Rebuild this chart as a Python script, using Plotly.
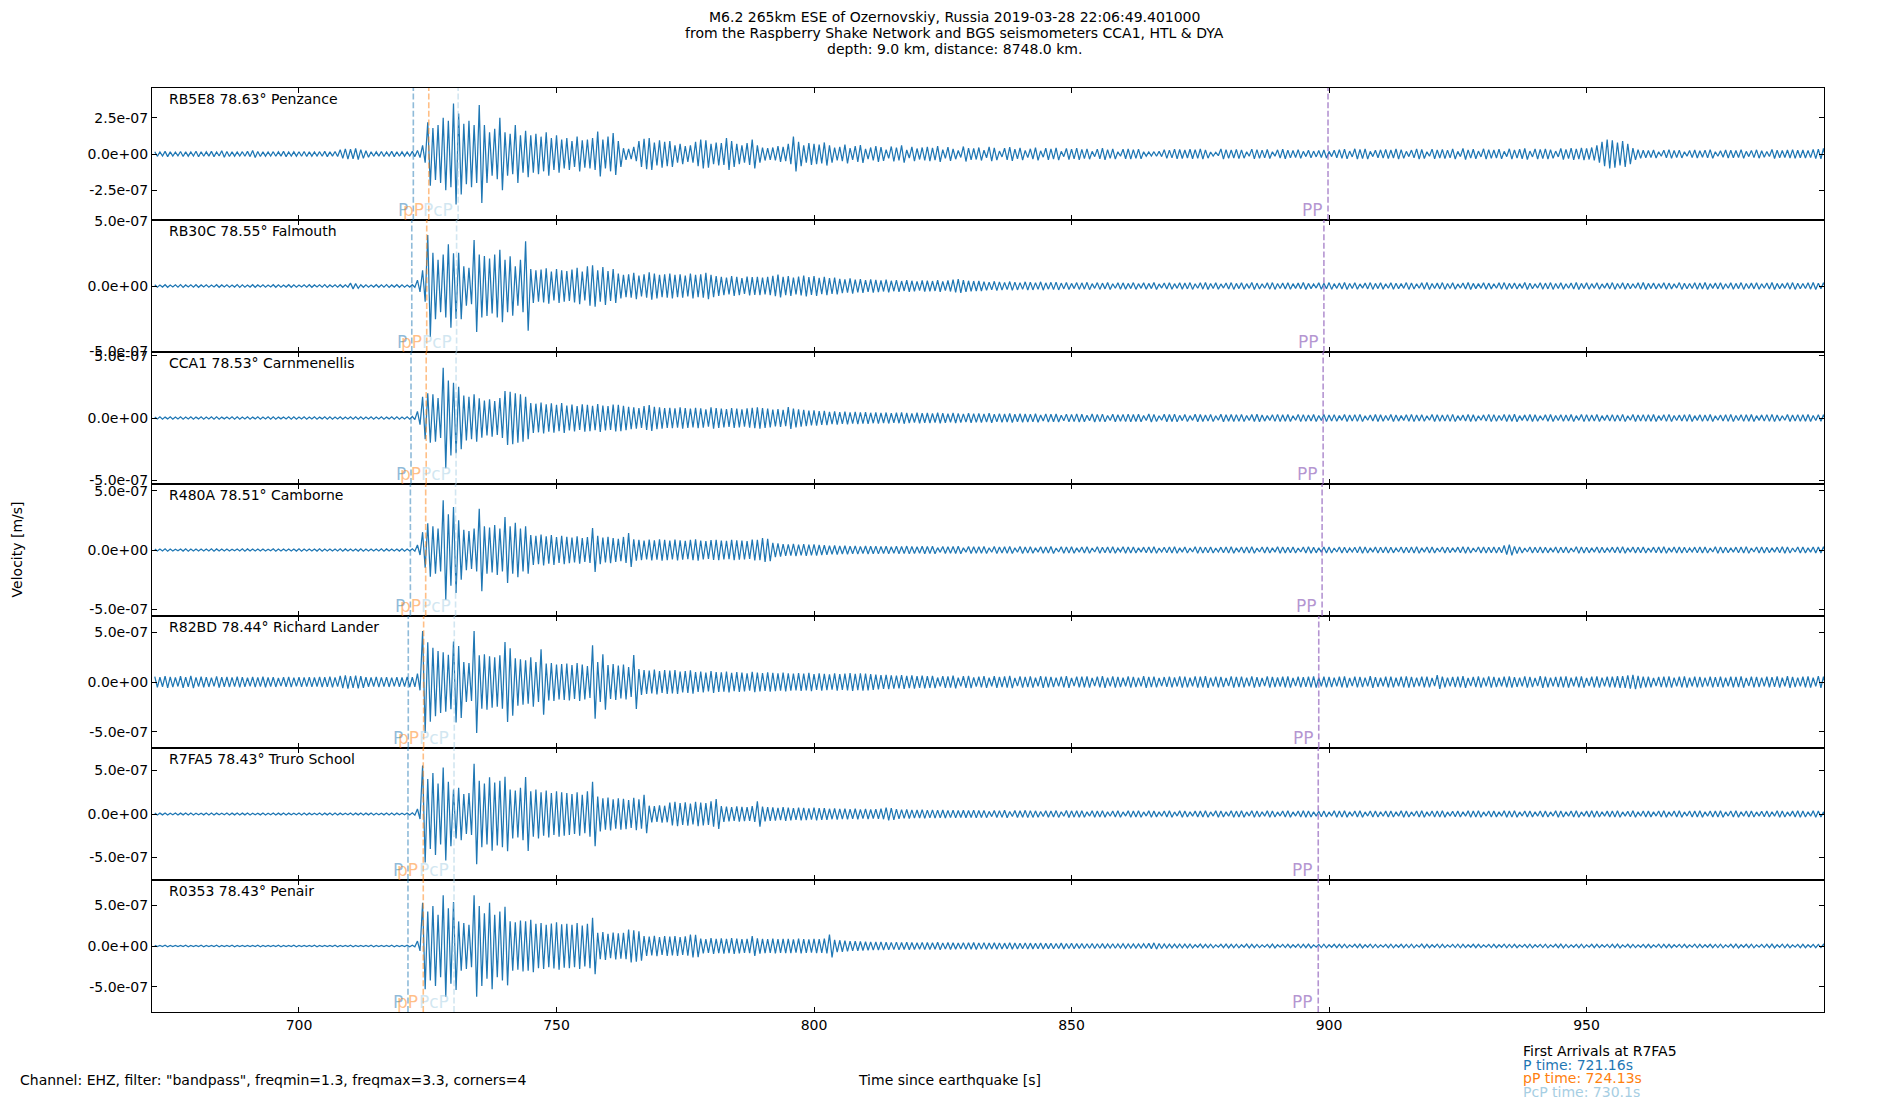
import plotly.graph_objects as go
from plotly.subplots import make_subplots

# ---------------- data ----------------
stations = ["RB5E8", "RB30C", "CCA1", "R480A", "R82BD", "R7FA5", "R0353"]
distances = [78.63, 78.55, 78.53, 78.51, 78.44, 78.43, 78.43]
places = ["Penzance", "Falmouth", "Carnmenellis", "Camborne", "Richard Lander", "Truro School", "Penair"]

# symmetric y-limits of every panel (m/s)
y_limits = [4.57e-7, 5.05e-7, 5.3e-7, 5.56e-7, 6.65e-7, 7.57e-7, 8.05e-7]
ytick_vals = [[-2.5e-7, 0, 2.5e-7]] + [[-5e-7, 0, 5e-7]] * 6
ytick_text = [["-2.5e-07", "0.0e+00", "2.5e-07"]] + [["-5.0e-07", "0.0e+00", "5.0e-07"]] * 6

x_range = [671.46, 996.1]
xtick_vals = [700, 750, 800, 850, 900, 950]
xtick_text = ["700", "750", "800", "850", "900", "950"]

# arrival times (s) per station
P_times = [722.2, 721.9, 721.75, 721.63, 721.22, 721.16, 721.16]
pP_times = [725.2, 724.8, 724.7, 724.6, 724.2, 724.13, 724.13]
PcP_times = [730.9, 730.6, 730.5, 730.4, 730.15, 730.1, 730.1]
PP_times = [899.8, 899.0, 898.85, 898.65, 898.0, 897.9, 897.9]

# peak amplitude (nm/s) in 1-second bins starting at t = 672 s
bin_start = 672
amp_RB5E8 = [
    16,14,18,15,13,17,15,14,19,16, 15,18,14,22,17,15,14,16,18,24,
    17,15,14,16,15,18,14,15,16,17, 15,14,16,18,15,17,30,36,33,38,
    30,22,16,15,17,14,18,16,15,14, 18,25,60,220,180,200,250,230,350,280,
    210,230,200,340,200,150,175,250,150,140, 200,130,160,130,140,120,150,110,130,100,
    110,90,120,95,100,110,155,100,120,145, 90,40,35,50,90,105,110,80,95,85,
    90,60,70,55,60,85,100,95,70,80, 75,110,90,70,60,75,100,60,45,40,
    45,55,50,70,120,85,60,75,70,65, 80,60,45,50,65,40,55,62,35,45,
    55,48,30,52,45,60,28,50,38,45, 50,42,55,30,48,36,24,52,40,38,
    45,26,50,42,20,40,48,34,42,25, 36,44,22,40,35,42,18,38,34,40,
    32,36,18,34,40,30,35,16,33,36, 30,34,15,14,16,18,30,27,34,31,
    28,33,30,36,29,14,12,35,30,28, 32,29,16,34,30,27,31,15,29,33,
    27,24,30,18,26,20,24,28,18,26, 30,34,20,36,32,35,18,26,29,32,
    28,35,30,18,27,36,31,16,34,28, 32,27,35,18,38,29,33,20,36,30,
    28,34,18,36,29,33,38,20,35,32, 36,30,20,38,32,40,35,42,38,45,
    60,85,100,95,80,90,70,40,30,26, 24,28,16,26,30,24,27,15,25,28,
    23,27,30,16,22,28,26,24,30,18, 25,29,23,17,31,26,24,28,30,26,
    28,25,32,34,38,
]
amp_RB30C = [
    9,8,10,7,9,11,8,9,10,8, 9,7,10,8,9,8,11,9,8,10,
    8,9,7,10,9,8,10,9,8,9, 10,8,9,11,8,9,10,9,22,18,
    10,9,8,10,9,11,8,10,9,8, 10,45,120,390,255,200,240,320,250,255,
    150,140,352,240,230,210,240,278,200,227, 150,200,342,130,120,125,135,110,130,120,
    115,125,140,110,150,158,120,145,115,130, 95,85,90,100,80,90,105,95,85,90,
    95,85,90,80,95,85,90,100,85,75, 70,65,75,70,60,72,68,70,65,70,
    78,87,70,75,65,72,80,68,75,62, 70,60,65,55,50,58,48,52,45,50,
    46,42,48,40,45,38,44,40,36,42, 40,38,44,36,42,48,52,45,40,38,
    38,34,30,36,32,28,34,30,26,32, 30,26,32,24,28,30,22,27,20,26,
    24,28,18,26,22,27,17,25,24,20, 26,18,24,20,27,16,23,25,18,24,
    22,26,17,24,27,19,25,16,23,26, 20,25,18,27,22,17,24,26,19,23,
    25,18,22,27,20,16,24,21,26,18, 23,27,19,25,16,22,26,20,24,17,
    25,21,18,26,23,17,24,27,19,22, 26,19,24,16,23,27,20,18,25,22,
    17,24,26,20,23,18,27,21,16,25, 22,26,19,24,17,23,27,20,25,18,
    24,16,22,26,19,25,21,17,24,27, 20,23,18,25,22,16,26,21,19,24,
    23,27,18,22,25,17,24,20,26,19, 22,25,17,23,27,20,18,24,26,21,
    19,24,27,21,25,
]
amp_CCA1 = [
    8,9,7,10,8,9,8,10,7,9, 8,10,9,7,8,9,10,8,9,7,
    9,8,10,9,7,8,9,10,8,9, 8,9,7,10,9,8,10,8,9,10,
    9,8,10,8,9,7,10,9,8,9, 12,53,171,198,190,160,404,300,283,250,
    180,170,190,158,140,150,136,160,217,210, 198,190,170,120,115,125,110,118,105,120,
    100,108,95,110,105,98,112,100,95,108, 105,98,90,85,80,95,104,90,85,80,
    82,78,85,80,75,82,78,70,85,80, 76,72,80,75,70,78,82,85,80,75,
    68,72,65,88,75,70,66,60,62,55, 58,50,54,48,52,45,50,46,48,42,
    45,40,44,38,42,46,40,36,42,38, 40,36,42,38,34,40,37,33,38,35,
    36,33,38,31,35,32,36,30,34,32, 31,34,24,33,30,32,22,31,29,33,
    30,22,32,29,31,20,30,26,29,31, 28,30,20,32,29,18,30,28,31,21,
    29,19,30,28,25,29,18,30,26,28, 27,29,20,28,30,25,19,27,29,26,
    28,18,29,27,24,28,20,29,25,27, 19,28,25,27,29,18,24,28,26,20,
    28,25,19,26,29,24,27,18,28,26, 25,27,29,19,24,28,26,18,25,29,
    27,20,28,26,30,19,25,28,26,18, 26,28,20,27,24,28,19,29,27,25,
    28,19,24,27,25,29,18,28,25,27, 26,28,19,27,29,20,24,27,28,19,
    27,25,28,18,24,27,29,20,27,26, 28,19,25,27,29,24,18,28,25,27,
    26,28,20,27,26,
]
amp_R480A = [
    9,8,10,8,7,9,10,8,9,8, 8,10,9,8,9,7,8,10,9,8,
    9,8,7,10,8,9,8,9,10,8, 8,9,10,8,9,8,10,9,8,9,
    10,8,9,8,10,9,8,9,10,8, 10,42,150,225,200,180,418,300,362,250,
    170,160,180,348,200,190,210,180,278,200, 230,180,200,126,120,130,115,125,110,120,
    112,105,115,100,110,185,120,105,112,100, 95,110,143,90,85,80,88,82,90,85,
    80,88,82,78,85,90,80,75,84,86, 80,78,85,82,80,75,88,85,100,95,
    60,55,50,48,52,45,50,46,48,42, 40,36,38,34,36,32,35,30,34,31,
    33,30,32,28,31,29,33,30,28,31, 29,31,20,30,27,29,31,18,30,27,
    28,30,19,29,26,28,30,18,29,26, 27,18,28,26,29,17,27,26,28,18,
    26,28,17,27,24,26,28,16,27,26, 25,18,24,26,28,17,23,26,27,18,
    26,17,27,25,23,26,17,24,25,27, 18,26,25,27,17,25,26,18,27,25,
    23,26,17,25,27,24,18,26,25,17, 26,24,17,23,27,25,18,26,23,25,
    24,17,25,23,25,27,18,25,26,17, 25,23,18,24,27,25,17,26,25,23,
    26,24,38,45,30,25,17,26,23,25, 24,18,25,23,26,17,27,25,24,18,
    25,23,17,24,25,27,18,26,23,25, 17,24,25,27,18,26,25,23,17,24,
    25,26,17,27,25,23,18,24,25,27, 17,26,25,23,18,24,27,25,17,26,
    25,18,26,25,27,
]
amp_R82BD = [
    55,48,60,52,45,58,50,62,47,53, 50,44,56,48,52,46,55,49,43,51,
    47,53,45,50,42,48,52,44,49,46, 50,45,52,48,55,47,62,67,60,65,
    58,48,45,52,46,50,44,49,45,52, 48,84,513,400,346,312,300,275,409,362,
    200,190,513,270,280,260,250,270,403,339, 240,230,220,250,200,329,185,190,175,180,
    185,170,190,175,160,369,200,280,170,180, 165,175,150,272,130,120,115,125,110,120,
    115,120,105,110,118,100,105,95,110,100, 98,105,92,100,95,88,102,96,90,98,
    92,86,95,88,84,90,85,92,80,88, 82,78,86,80,85,90,82,88,84,80,
    75,70,72,68,65,70,62,66,60,64, 58,62,45,60,57,63,44,58,61,46,
    55,60,43,58,52,57,61,42,56,52, 57,43,59,55,51,44,54,58,42,55,
    53,57,42,55,58,44,56,51,43,57, 52,44,58,51,54,42,50,55,45,57,
    54,43,56,53,58,44,55,51,42,56, 51,55,44,57,50,42,56,52,45,53,
    56,42,54,50,55,57,43,54,52,44, 53,57,42,55,52,44,58,50,43,53,
    55,43,54,57,52,44,53,55,42,70, 54,44,52,55,58,42,51,56,44,57,
    52,43,53,57,50,44,56,52,42,58, 53,44,52,55,57,43,54,56,42,55,
    57,44,55,53,58,60,68,73,62,55, 53,42,52,55,57,44,54,56,43,55,
    52,44,54,50,55,43,53,51,56,42, 55,52,44,53,50,56,43,58,52,44,
    53,57,43,60,55,
]
amp_R7FA5 = [
    11,10,12,9,11,10,12,11,9,10, 11,12,10,9,11,10,12,10,11,9,
    10,11,9,12,10,11,10,9,11,12, 10,9,11,10,12,11,10,9,11,10,
    12,10,11,9,10,12,11,10,9,11, 14,57,557,400,470,350,534,370,280,300,
    230,240,576,380,350,420,360,380,427,280, 270,300,424,260,280,250,270,240,260,250,
    240,230,250,220,260,370,200,180,190,170, 180,175,160,185,170,221,95,90,100,95,
    130,140,125,135,120,140,130,125,145,172, 90,85,80,88,82,78,90,145,85,80,
    75,70,78,72,68,74,70,65,72,68, 66,60,64,58,62,56,60,54,58,52,
    56,60,72,68,55,50,52,48,46,50, 45,48,44,46,42,45,40,43,41,44,
    40,42,30,41,39,43,28,40,38,42, 39,36,28,38,35,39,26,40,36,38,
    37,25,38,34,36,26,35,37,24,36, 35,38,24,36,33,25,35,38,24,36,
    34,25,33,35,38,24,36,33,25,37, 33,36,24,38,35,25,36,34,24,35,
    36,24,35,37,34,25,32,35,24,36, 34,36,25,35,37,24,35,34,26,33,
    35,25,36,34,24,35,37,25,35,34, 36,24,32,35,25,36,34,37,24,35,
    33,25,37,34,36,24,35,33,25,34, 35,24,36,34,25,35,37,24,33,36,
    34,25,33,35,37,24,32,36,25,35, 33,24,34,36,25,35,37,24,35,34,
    36,25,35,34,37,24,34,36,25,35, 34,24,32,35,25,37,34,24,33,36,
    35,25,36,34,24,
]
amp_R0353 = [
    8,7,9,8,7,8,9,7,8,9, 7,8,9,8,7,9,8,7,8,8,
    9,7,8,8,9,7,8,9,7,8, 8,9,7,8,8,9,7,8,9,8,
    7,8,9,8,7,8,9,8,7,9, 10,60,528,420,488,380,618,460,537,300,
    280,260,618,488,400,528,380,420,480,300, 290,310,300,320,270,280,260,275,290,265,
    270,260,280,250,270,345,160,170,150,165, 155,160,200,190,180,120,115,125,110,120,
    115,120,110,118,140,135,90,85,95,88, 92,86,95,90,85,88,120,92,88,85,
    90,84,88,86,82,90,85,80,88,84, 90,140,75,70,65,60,58,55,52,50,
    48,50,46,44,47,42,45,43,40,44, 42,40,45,38,42,40,37,41,39,43,
    38,41,36,40,38,35,39,37,34,38, 35,33,36,32,34,31,35,30,33,29,
    30,28,31,27,29,26,28,25,27,24, 26,24,28,32,38,30,25,23,22,24,
    22,24,15,23,20,22,14,21,23,20, 22,15,23,21,19,14,20,23,15,19,
    21,15,22,20,23,14,19,22,15,21, 20,22,14,21,23,15,22,19,14,20,
    22,15,21,19,22,14,23,21,15,22, 20,14,19,22,20,15,21,20,14,19,
    21,15,22,19,21,14,20,22,15,19, 22,14,21,23,19,15,20,22,14,21,
    20,15,19,21,23,14,21,19,15,20, 21,14,22,20,21,15,19,21,14,22,
    20,15,21,19,22,14,21,23,15,21, 22,14,19,21,23,15,22,21,14,20,
    21,15,20,19,21,
]
amplitudes = [amp_RB5E8, amp_RB30C, amp_CCA1, amp_R480A, amp_R82BD, amp_R7FA5, amp_R0353]

title_lines = [
    "M6.2 265km ESE of Ozernovskiy, Russia 2019-03-28 22:06:49.401000",
    "from the Raspberry Shake Network and BGS seismometers CCA1, HTL & DYA",
    "depth: 9.0 km, distance: 8748.0 km.",
]
arrival_lines = ["First Arrivals at R7FA5", "P time: 721.16s", "pP time: 724.13s", "PcP time: 730.1s"]

# ---------------- styling ----------------
FONT = "DejaVu Sans"
TRACE_COLOR = "#1f77b4"
phase_names = ["P", "pP", "PcP", "PP"]
phase_colors = ["rgba(31,119,180,0.5)", "rgba(255,127,14,0.5)", "rgba(166,206,227,0.5)", "rgba(148,103,189,0.7)"]
arrival_colors = ["#000000", "#1f77b4", "#ff7f0e", "#a6cee3"]

W, H = 1900, 1100
L, R, T, B = 152.3, 1824.3, 88.3, 1012.3
pw, ph = R - L, B - T


def px(xpix):
    return (xpix - L) / pw


def py(ypix):
    return (B - ypix) / ph


n = len(stations)
fig = make_subplots(rows=n, cols=1, shared_xaxes=True, vertical_spacing=0)

for i in range(n):
    xs, ys = [], []
    k = 0
    for j, a in enumerate(amplitudes[i]):
        for s in range(2):
            xs.append(bin_start + j + s / 2.0)
            ys.append((a if k % 2 == 0 else -a) * 1e-9)
            k += 1
    fig.add_trace(go.Scatter(x=xs, y=ys, mode="lines",
                             line=dict(color=TRACE_COLOR, width=1.25),
                             hoverinfo="skip", showlegend=False), row=i + 1, col=1)

    ax = "" if i == 0 else str(i + 1)
    fig.update_yaxes(range=[-y_limits[i], y_limits[i]], tickvals=ytick_vals[i], ticktext=ytick_text[i],
                     row=i + 1, col=1)

    # phase lines and labels
    times = [P_times[i], pP_times[i], PcP_times[i], PP_times[i]]
    for name, t, col in zip(phase_names, times, phase_colors):
        fig.add_shape(type="line", x0=t, x1=t, y0=0, y1=1, xref="x" + ax, yref="y" + ax + " domain",
                      line=dict(color=col, width=1.6, dash="6px,2.6px"))
        fig.add_annotation(x=t, y=0, xref="x" + ax, yref="y" + ax + " domain", text=name,
                           showarrow=False, xanchor="right", yanchor="bottom", xshift=-3, yshift=-2,
                           font=dict(family=FONT, size=17, color=col))

    # station label
    fig.add_annotation(x=0.0088, y=1, xref="x" + ax + " domain", yref="y" + ax + " domain",
                       text=f"{stations[i]} {distances[i]}° {places[i]}", showarrow=False,
                       xanchor="left", yanchor="top", yshift=-1,
                       font=dict(family=FONT, size=14, color="black"))

fig.update_xaxes(range=x_range, tickvals=xtick_vals, ticktext=xtick_text, ticks="inside", ticklen=5,
                 tickwidth=1, tickcolor="black", showline=True, linecolor="black", linewidth=1.3,
                 mirror="allticks", showgrid=False, zeroline=False,
                 tickfont=dict(family=FONT, size=14, color="black"))
fig.update_yaxes(ticks="inside", ticklen=5, tickwidth=1, tickcolor="black", showline=True,
                 linecolor="black", linewidth=1.3, mirror="allticks", showgrid=False, zeroline=False,
                 tickfont=dict(family=FONT, size=14, color="black"))

# title lines
for line, ypix in zip(title_lines, [17, 33, 49]):
    fig.add_annotation(x=px(955), y=py(ypix), xref="paper", yref="paper", text=line, showarrow=False,
                       xanchor="center", yanchor="middle", font=dict(family=FONT, size=14, color="black"))

# axis titles and footer texts
fig.add_annotation(x=px(17), y=py(550), xref="paper", yref="paper", text="Velocity [m/s]", textangle=-90,
                   showarrow=False, xanchor="center", yanchor="middle",
                   font=dict(family=FONT, size=14, color="black"))
fig.add_annotation(x=px(950), y=py(1080), xref="paper", yref="paper", text="Time since earthquake [s]",
                   showarrow=False, xanchor="center", yanchor="middle",
                   font=dict(family=FONT, size=14, color="black"))
fig.add_annotation(x=px(18), y=py(1080), xref="paper", yref="paper",
                   text='Channel: EHZ, filter: "bandpass", freqmin=1.3, freqmax=3.3, corners=4',
                   showarrow=False, xanchor="left", yanchor="middle",
                   font=dict(family=FONT, size=14, color="black"))
for line, col, ypix in zip(arrival_lines, arrival_colors, [1051, 1065, 1078.5, 1092]):
    fig.add_annotation(x=px(1521), y=py(ypix), xref="paper", yref="paper", text=line, showarrow=False,
                       xanchor="left", yanchor="middle", font=dict(family=FONT, size=14, color=col))

fig.update_layout(width=W, height=H, margin=dict(l=L, r=W - R, t=T, b=H - B, pad=0),
                  plot_bgcolor="white", paper_bgcolor="white", showlegend=False,
                  font=dict(family=FONT, size=14, color="black"))

fig.write_html("out.html", config={"displayModeBar": False},
               post_script="document.body.style.margin='0px';document.body.style.overflow='hidden';")
